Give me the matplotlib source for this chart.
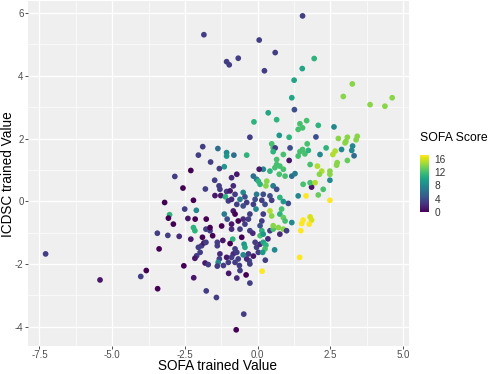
import matplotlib.pyplot as plt
import numpy as np

# ======================
# data
# ======================
sofa_x = [
    -1.85, -1.07, -0.98, 1.54, 0.05, 0.60, -0.67, 0.23, 1.94, 1.53, 1.25, 1.17, 1.26, 0.36,
    3.25, 2.94, 3.86, 4.37, 4.62,
    -7.29, -5.42,
    -3.45, -3.09, -2.70, -2.30, -3.39, -3.83, -4.02, -3.44, -2.54, -2.20, -1.77, -1.42,
    -2.04, -1.93, -1.98, -2.10, -2.16, -1.85, -1.78, -1.81, -1.70,
    -1.39, -1.39, -1.30, -1.32, -1.36, -1.07, -1.01, -1.18, -1.39,
    -1.78, -1.64, -2.16,
    -0.48, -0.74, -0.27, -0.72, 0.15, 1.44, 1.48, 0.58, 0.26,
    -0.90, -0.61, -0.27, -0.17, 0.14, 0.08, 0.19,
    0.42, 0.53, 0.76, 0.88, 0.99, -0.86, -0.47, -0.44, -0.50,
    -0.78, -0.84, -0.72, -0.90, -0.67, -0.78, -0.63, -0.61,
    -0.32, -0.29, -0.38, -0.27, -0.09, -0.04, 0.02, 0.08, 0.19, 0.28, 0.25, 0.17,
    2.62, 2.77, 3.08, 3.03, 3.00, 3.42, 3.38, 2.88, 3.26, 3.23, 3.31, 2.66, 2.58,
    2.73, 2.71, 3.08, 2.48, 2.48, 2.48, 2.48,
    -1.89, -1.37, -2.04, -1.07, -1.07, -1.62, -1.15, -1.32, -2.30, -2.85, -1.48, -2.57,
    -1.80, -1.33, -1.30, -1.07, -1.47, -1.27, -1.11, -3.20, -2.21, -1.01, -2.51, -2.11,
    -3.03, -3.07, -2.90, -2.15, -1.77, -1.15, -1.05, -1.24, -2.21, -1.64,
    -0.13, 0.65, 1.45, 1.68, 1.54, 1.39, 2.08, 1.08, 2.00, 0.74, -0.27, 0.48, 0.53, 0.60,
    1.11, 1.70, 1.54, 1.45, 1.62, 2.35, 1.39, 1.74, 2.14, -0.82, -0.38, 0.53, 0.88, 0.65,
    0.65, 0.76, 0.88, 0.59, 1.08, 0.42, 0.19, 0.05, 2.05, 2.20, 2.12, 1.80, 1.17, 1.28,
    0.74, 0.94, -0.15, -0.04, -0.72, -0.90, 0.31, 0.28, 0.02, 0.08, 1.56, 1.85, 1.80, 1.97,
    2.25, 0.53, 0.65, 1.39, 1.66, 2.08, 1.05, 0.76, 0.88, 0.42, 0.48, 0.19, 0.14, 0.25,
    -0.04, -0.09, -0.15, -0.06, -0.50, -0.44, -0.61, -0.38, -0.50, -0.84, -0.95, -0.78,
    -0.90, -0.72, -0.84, 0.82, 0.76, 0.88, 0.94, 0.42, 0.48, 0.19, 0.14, 0.08, -0.27,
    -0.32, -0.44, -0.50, -0.78, -0.67, -0.90, 1.17, 1.51, 1.56, 1.80, 1.85, 1.77, 0.53, 0.71,
    # extra dense-core points
    -1.55, -1.20, -0.95, -0.55, -0.15, 0.35, -1.90, -2.40, -0.40, -1.00,
]
icdsc_y = [
    5.31, 4.45, 4.35, 5.91, 5.14, 4.74, 4.56, 4.16, 4.55, 4.23, 3.86, 3.30, 2.92, 2.82,
    3.74, 3.34, 3.08, 3.03, 3.30,
    -1.68, -2.51,
    -1.02, -1.09, -1.12, -1.21, -1.52, -2.21, -2.40, -2.79, -2.06, -2.44, -2.86, -3.07,
    -1.47, -1.42, -1.63, -1.74, -1.82, -1.33, -1.31, -1.97, -2.02,
    -1.31, -1.42, -1.68, -1.84, -1.95, -1.79, -1.95, -2.05, -2.07,
    -0.89, -0.94, -0.94,
    -3.60, -4.10, -2.61, -2.45, -2.23, -1.79, -0.94, -1.55, -1.88,
    -0.89, -0.89, -0.94, -1.02, -0.94, -1.10, -1.05,
    -0.94, -0.89, -1.05, -0.89, -0.94, -1.21, -1.37, -1.47, -1.71,
    -1.52, -1.68, -1.63, -1.79, -1.84, -1.95, -2.05, -2.21,
    -1.68, -1.90, -1.84, -2.00, -1.31, -1.47, -1.63, -1.37, -1.31, -1.40, -1.52, -1.63,
    2.37, 2.00, 2.04, 1.91, 1.86, 2.07, 1.96, 1.65, 1.76, 1.62, 1.45, 1.60, 1.49,
    1.23, 1.15, 1.30, 0.96, 0.86, 0.67, 0.03,
    1.74, 1.68, 1.47, 1.55, 1.44, 1.25, 1.10, 1.04, 0.98, 0.79, 0.67, 0.42,
    0.39, 0.49, 0.38, 0.31, 0.18, 0.18, 0.14, -0.04, 0.03, 0.01, -0.25, -0.29,
    -0.43, -0.54, -0.73, -0.57, -0.57, -0.41, -0.57, -0.79, -0.84, -0.84,
    2.53, 2.60, 2.47, 2.57, 2.34, 2.29, 2.42, 2.04, 2.05, 2.10, 2.04, 1.83, 1.70, 1.70,
    1.70, 1.83, 1.65, 1.58, 1.51, 1.70, 1.44, 1.62, 1.49, 1.47, 1.47, 1.58, 1.49, 1.33,
    1.17, 1.12, 1.02, 1.07, 1.30, 0.96, 1.02, 1.02, 1.12, 0.96, 0.86, 1.17, 0.80, 0.88,
    0.86, 0.80, 0.80, 0.70, 0.86, 0.75, 0.64, 0.49, 0.64, 0.54, 0.54, 0.45, 0.59, 0.59,
    0.38, 0.49, 0.38, 0.17, 0.17, 0.20, -0.07, 0.12, -0.01, 0.17, 0.03, 0.22, 0.03, -0.10,
    0.22, 0.06, -0.10, -0.25, 0.28, 0.14, 0.06, -0.04, -0.15, 0.49, 0.33, 0.22,
    0.06, -0.10, -0.31, -0.25, -0.41, -0.52, -0.63, -0.31, -0.47, -0.41, -0.63, -0.78, -0.41,
    -0.57, -0.73, -0.57, -0.41, -0.63, -0.73, -0.68, -0.71, -0.60, -0.50, -0.60, -0.73, -0.78, -0.84,
    # extra dense-core points
    -1.10, -1.25, -1.35, -1.15, -1.75, -1.20, -1.15, -0.55, -2.35, -2.30,
]
sofa_score = [
    3, 3, 3, 3, 3, 3, 3, 3, 11, 10, 10, 10, 4, 10,
    14, 14, 14, 14, 14,
    3, 1,
    3, 3, 2, 1, 0, 0, 3, 0, 0, 1, 3, 3,
    3, 3, 3, 3, 1, 1, 3, 1, 3,
    3, 3, 2, 3, 8, 1, 3, 3, 3,
    3, 3, 11,
    3, 0, 3, 2, 17, 17, 17, 8, 3,
    2, 3, 3, 2, 11, 12, 9,
    3, 12, 2, 14, 3, 11, 9, 10, 8,
    3, 2, 3, 3, 3, 3, 3, 3,
    3, 4, 2, 3, 3, 3, 3, 2, 10, 11, 12, 9,
    8, 14, 14, 14, 14, 14, 14, 8, 8, 8, 6, 15, 15,
    14, 14, 13, 14, 14, 8, 17,
    3, 6, 3, 8, 9, 3, 9, 3, 0, 3, 3, 0,
    3, 3, 3, 3, 1, 1, 11, 0, 0, 3, 3, 8,
    11, 0, 0, 0, 0, 7, 4, 0, 11, 0,
    11, 11, 12, 12, 12, 12, 11, 11, 4, 9, 3, 12, 12, 3,
    4, 12, 12, 12, 12, 11, 12, 11, 8, 6, 11, 11, 12, 12,
    12, 12, 12, 12, 1, 11, 8, 1, 15, 15, 14, 12, 6, 7,
    12, 12, 6, 7, 1, 2, 14, 14, 11, 11, 12, 1, 12, 15,
    12, 7, 4, 8, 17, 13, 4, 11, 9, 4, 3, 4, 3, 4,
    7, 4, 3, 8, 8, 4, 7, 3, 4, 2, 1, 3,
    2, 3, 1, 12, 11, 13, 12, 15, 14, 3, 3, 4, 3,
    3, 3, 2, 0, 0, 1, 8, 17, 17, 16, 16, 17, 14, 14,
    # extra dense-core points
    0, 1, 0, 0, 1, 2, 0, 1, 0, 1,
]

x_ticks = [-7.5, -5.0, -2.5, 0.0, 2.5, 5.0]
y_ticks = [-4, -2, 0, 2, 4, 6]
bar_ticks = [0, 4, 8, 12, 16]

# ======================
# plot
# ======================
plt.rcParams['font.family'] = ['Liberation Sans', 'DejaVu Sans']

fig = plt.figure(figsize=(5, 3.74), dpi=100)
ax = fig.add_axes([0.056, 0.076, 0.762, 0.921])
ax.set_facecolor('#EFEFEF')

sc = ax.scatter(sofa_x, icdsc_y, c=sofa_score, cmap='viridis', vmin=0, vmax=17,
                s=17, linewidths=0, zorder=3)

ax.set_xlim(-7.895, 5.198)
ax.set_ylim(-4.603, 6.381)
ax.set_xticks(x_ticks)
ax.set_xticklabels([f"{v:.1f}" for v in x_ticks])
ax.set_yticks(y_ticks)
ax.set_yticklabels([str(v) for v in y_ticks])
ax.set_xticks([-6.25, -3.75, -1.25, 1.25, 3.75], minor=True)
ax.set_yticks([-3, -1, 1, 3, 5], minor=True)
ax.grid(which='major', color='white', linewidth=0.9, zorder=0)
ax.grid(which='minor', color='white', linewidth=0.45, zorder=0)
ax.set_axisbelow(True)
for s in ax.spines.values():
    s.set_visible(False)
ax.tick_params(which='major', length=2.2, width=0.6, color='#333333',
               labelsize=7, labelcolor='#4D4D4D', pad=1)
ax.tick_params(which='minor', length=0)

# axis titles placed by hand so they stay inside the figure
fig.text(0.436, 0.003, "SOFA trained Value", fontsize=9.8, ha='center', va='bottom')
fig.text(0.017, 0.535, "ICDSC trained Value", fontsize=9.8, ha='center', va='center',
         rotation=90)

# colourbar legend
cax = fig.add_axes([0.84, 0.433, 0.018, 0.152])
cb = fig.colorbar(sc, cax=cax, ticks=bar_ticks)
cb.outline.set_visible(False)
cb.ax.tick_params(length=2, width=0.5, color='white', labelsize=7.3,
                  labelcolor='#333333', pad=2)
fig.text(0.84, 0.615, "SOFA Score", fontsize=8.8, ha='left', va='bottom')

plt.savefig("out.png", dpi=100)
